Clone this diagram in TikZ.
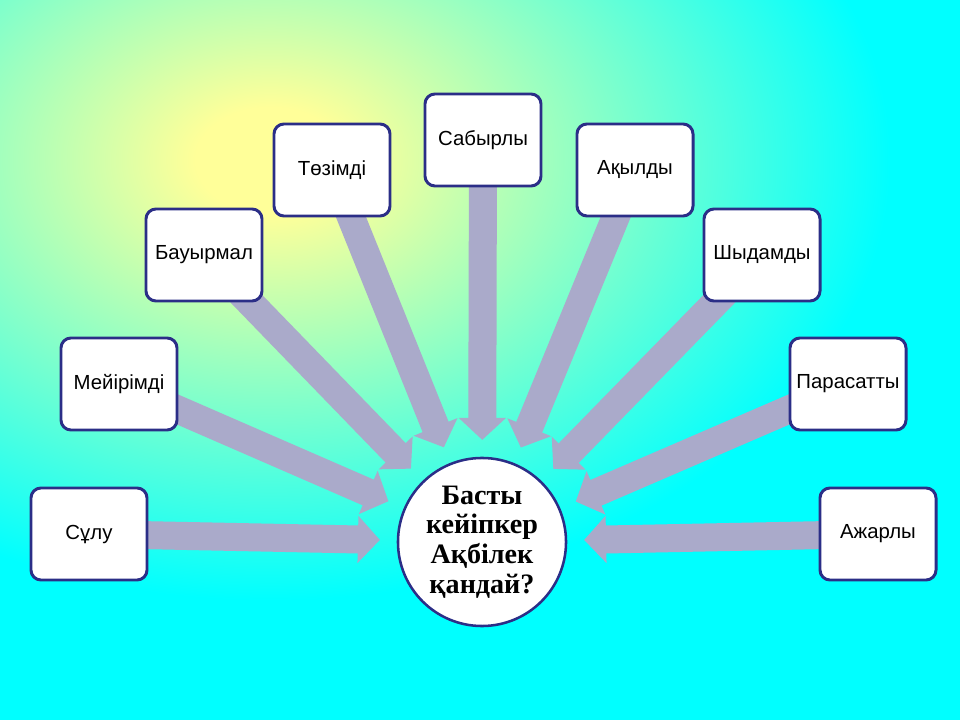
\documentclass[tikz,border=0pt]{standalone}
\usepackage{fontspec}
\setmainfont{Liberation Sans}
\newfontfamily\hubfont{Liberation Serif}
\usetikzlibrary{arrows.meta,backgrounds}
\definecolor{boxnavy}{RGB}{43,46,135}
\definecolor{spokegray}{RGB}{170,170,202}
\definecolor{bgcyan}{RGB}{0,255,255}
\definecolor{glowcore}{RGB}{255,255,153}
\definecolor{glowmid}{RGB}{185,255,180}
\pgfdeclareradialshading{glow}{\pgfpoint{0bp}{0bp}}{color(0bp)=(glowcore); color(3bp)=(glowcore); color(9bp)=(glowmid); color(25bp)=(bgcyan); color(50bp)=(bgcyan)}

\begin{document}
\begin{tikzpicture}[x=0.025cm,y=-0.025cm,
  trait/.style={draw=boxnavy,line width=2.1pt,fill=white,rounded corners=0.25cm,
    minimum width=2.9cm,minimum height=2.3cm,inner sep=0pt,
    font=\fontsize{14.5}{17}\selectfont},
  hub/.style={circle,draw=boxnavy,line width=1.8pt,fill=white,minimum size=4.2cm,
    inner sep=0pt,align=center,font=\hubfont\bfseries\fontsize{20}{21}\selectfont},
  spoke/.style={draw=spokegray,line width=0.7cm,
    -{Triangle[width=1.15cm,length=0.55cm]},shorten >=0.42cm}]
\useasboundingbox (0,0) rectangle (960,720);

% Central question
\node[hub] (q) at (482,542) {Басты\\кейіпкер\\Ақбілек\\қандай?};

% Trait boxes
\foreach \n/\x/\y/\t in {b1/89/534/Сұлу, b2/119/384/Мейірімді, b3/204/255/Бауырмал,
    b4/332/170/Төзімді, b5/483/140/Сабырлы, b6/635/170/Ақылды,
    b7/762/255/Шыдамды, b8/848/384/Парасатты, b9/878/534/Ажарлы}
  \node[trait] (\n) at (\x,\y) {\t};

\begin{scope}[on background layer]
    % Backdrop with glow
    \fill[bgcyan] (0,0) rectangle (960,720);
    \begin{scope}
        \clip (0,0) rectangle (960,720);
        \shade[shading=glow] (270,160) ellipse (620 and 440);
    \end{scope}

    % Arrows into the question
    \foreach \i in {1,...,9}
        \draw[spoke] (b\i.center) -- (q);
\end{scope}
\end{tikzpicture}
\end{document}
